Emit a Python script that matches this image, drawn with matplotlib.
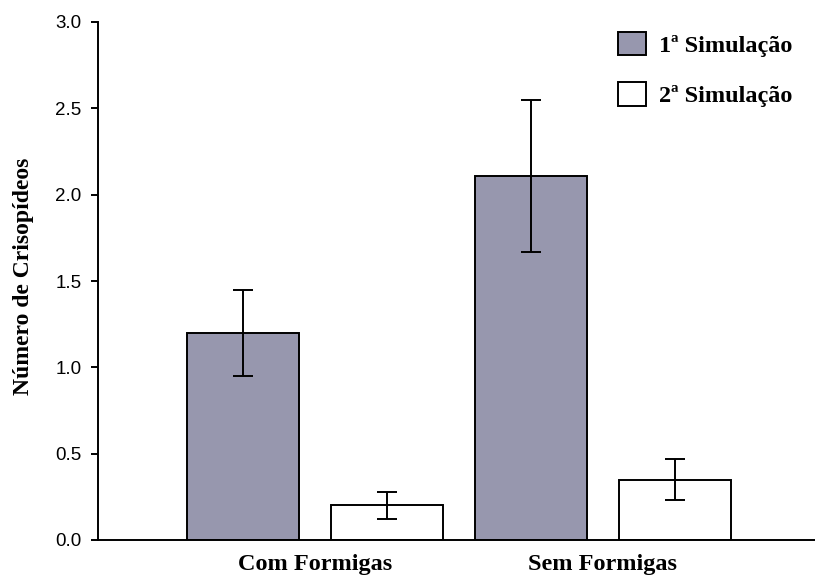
import numpy as np
import matplotlib
matplotlib.use("Agg")
import matplotlib.pyplot as plt

# data
groups = ["Com Formigas", "Sem Formigas"]
sim1 = [1.20, 2.11]
sim1_err = [0.25, 0.44]
sim2 = [0.20, 0.35]
sim2_err = [0.08, 0.12]
series_names = ["1ª Simulação", "2ª Simulação"]

serif = ["Liberation Serif", "DejaVu Serif"]
sans = ["Liberation Sans", "DejaVu Sans"]

fig = plt.figure(figsize=(8.15, 5.78), dpi=100)
ax = fig.add_axes([98/815, 38/578, 717/815, 518/578])

x = np.arange(len(groups))
w = 0.39
off = 0.25
ekw = dict(elinewidth=1.4, capthick=1.4, ecolor="black")
b1 = ax.bar(x - off, sim1, w, yerr=sim1_err, capsize=7, color="#9797ae",
            edgecolor="black", linewidth=1.4, error_kw=ekw, label=series_names[0])
b2 = ax.bar(x + off, sim2, w, yerr=sim2_err, capsize=7, color="white",
            edgecolor="black", linewidth=1.4, error_kw=ekw, label=series_names[1])

ax.set_xlim(-0.753, 1.736)
ax.set_ylim(0, 3.0)
ax.set_yticks(np.arange(0, 3.01, 0.5))
ax.set_yticklabels(["%.1f" % v for v in np.arange(0, 3.01, 0.5)], family=sans, fontsize=13.5)
ax.set_xticks(x)
ax.set_xticklabels(groups, family=serif, fontsize=17.5, fontweight="bold")
ax.tick_params(axis="x", length=0, pad=10)
ax.tick_params(axis="y", direction="out", length=5, width=1.4, pad=7)

for s in ["top", "right"]:
    ax.spines[s].set_visible(False)
ax.spines["left"].set_linewidth(1.4)
ax.spines["bottom"].set_linewidth(1.4)

ax.set_ylabel("Número de Crisopídeos", family=serif, fontsize=17, fontweight="bold")
ax.yaxis.set_label_coords(-0.089, 0.51)

leg = ax.legend(handles=[b1, b2], loc="upper left",
                bbox_to_anchor=(618/815, 1 - 32/578), bbox_transform=fig.transFigure,
                frameon=False, borderpad=0, borderaxespad=0,
                handlelength=1.15, handleheight=1.1, handletextpad=0.55,
                labelspacing=1.05, prop={"family": serif, "size": 17.5, "weight": "bold"})

fig.savefig("out.png", dpi=100)
